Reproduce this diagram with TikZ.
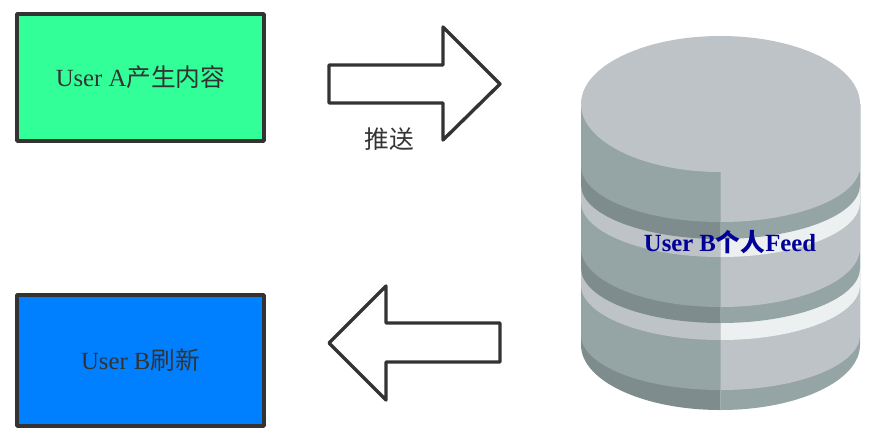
\documentclass[tikz,border=0pt]{standalone}
\usepackage{fontspec}
\setmainfont{Liberation Serif}
\newfontfamily\cjk{Noto Sans CJK SC}
\definecolor{boxline}{HTML}{333333}
\definecolor{boxgreen}{HTML}{33FF99}
\definecolor{boxblue}{HTML}{007FFF}
\definecolor{dbdark}{HTML}{7F8C8D}
\definecolor{dbmid}{HTML}{95A5A6}
\definecolor{dbgrey}{HTML}{BDC3C7}
\definecolor{dblight}{HTML}{ECF0F1}
\definecolor{dbtext}{HTML}{000099}
\tikzset{
	userbox/.style={draw=boxline,line width=3.4pt,line join=round,minimum width=247pt,inner sep=0pt,text=boxline,font=\fontsize{24.7}{26}\selectfont},
	bigarrow/.style={draw=boxline,fill=white,line width=3.4pt,line join=round},
	lbl/.style={text=boxline,inner sep=0pt,font=\fontsize{24.7}{26}\selectfont}
}
\begin{document}
\begin{tikzpicture}[x=1pt,y=-1pt]
	\useasboundingbox (0,0) rectangle (882,442);
	% boxes
	\node[userbox,fill=boxgreen,minimum height=127pt] (usera) at (140.5,77.5) {User A{\cjk 产生内容}};
	\node[userbox,fill=boxblue,minimum height=131pt] (userb) at (140.5,360.5) {User B{\cjk 刷新}};
	% arrows
	\draw[bigarrow] (329,65) -- (443,65) -- (443,27) -- (500,84) -- (443,140) -- (443,103) -- (329,103) -- cycle;
	\draw[bigarrow] (500,323) -- (386,323) -- (386,286) -- (329,343) -- (386,400) -- (386,362) -- (500,362) -- cycle;
	\node[lbl] (push) at (389.5,139.5) {\cjk 推送};
	% database, from the bottom layer up
	\foreach \ye/\yc/\cl/\cr in {345/410/dbdark/dbmid,335/390/dbmid/dbgrey,285/340/dbgrey/dblight,268/323/dbdark/dbmid,248/307/dbmid/dbgrey,202/257/dbgrey/dblight,185/239/dbdark/dbmid,166/222/dbmid/dbgrey}{
		\fill[\cl] (581,\ye) arc[start angle=180,end angle=270,x radius=139.5pt,y radius={(\yc-\ye)*1pt}] -- (720.5,104) -- (581,104) -- cycle;
		\fill[\cr] (720.5,\yc) arc[start angle=270,end angle=360,x radius=139.5pt,y radius={(\yc-\ye)*1pt}] -- (860,104) -- (720.5,104) -- cycle;
	}
	\fill[dbgrey] (720.5,104) ellipse[x radius=139.5pt,y radius=68pt];
	\fill[dbgrey] (720.5,104) rectangle (860,172);
	\node[inner sep=0pt,text=dbtext,font=\fontsize{24.7}{26}\selectfont\bfseries] (feed) at (730,242.5) {User B{\cjk 个人}Feed};
\end{tikzpicture}
\end{document}
